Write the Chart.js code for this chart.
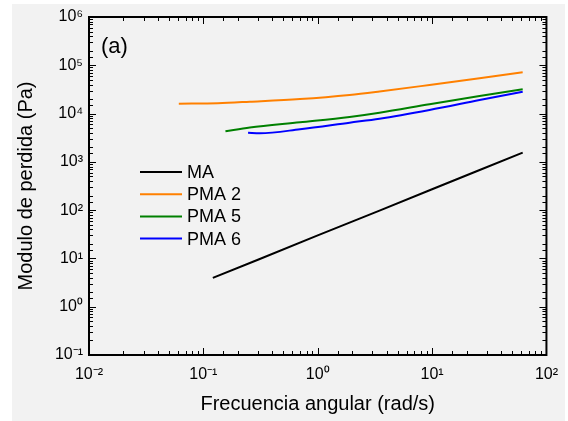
<!DOCTYPE html>
<html><head><meta charset="utf-8">
<script src="https://cdn.jsdelivr.net/npm/chart.js@4.4.0/dist/chart.umd.min.js"></script>
<style>html,body{margin:0;padding:0;background:#fff;}#wrap{width:568px;height:421px;}</style>
</head><body><div id="wrap"><canvas id="c" width="568" height="421"></canvas></div>
<script>
// ---- data ----
const seriesNames = ['MA', 'PMA 2', 'PMA 5', 'PMA 6'];
const seriesColors = ['#000000', '#ff8000', '#008000', '#0000ff'];

const maFreq = [0.121, 0.3, 1, 3.47, 10, 24.5, 62];
const maValues = [3.95, 9.4, 30, 98, 271, 640, 1550];

const pma2Freq = [0.061, 0.134, 0.255, 0.70, 1.9, 3.47, 9.5, 26, 62];
const pma2Values = [16000, 16400, 17600, 20000, 24300, 28700, 39100, 53800, 71600];

const pma5Freq = [0.156, 0.255, 0.70, 1.9, 3.47, 9.5, 26, 62];
const pma5Values = [4300, 5150, 6600, 8500, 10400, 15600, 23100, 31800];

const pma6Freq = [0.246, 0.311, 0.70, 1.9, 3.47, 9.5, 26, 62];
const pma6Values = [4020, 3910, 4730, 6490, 7840, 11900, 19100, 28400];

const xTickLabels = ['10\u207B\u00B2', '10\u207B\u00B9', '10\u2070', '10\u00B9', '10\u00B2'];
const xTickExps = [-2, -1, 0, 1, 2];
const yTickLabels = ['10\u207B\u00B9', '10\u2070', '10\u00B9', '10\u00B2', '10\u00B3', '10\u2074', '10\u2075', '10\u2076'];
const yTickExps = [-1, 0, 1, 2, 3, 4, 5, 6];

const xTitle = 'Frecuencia angular (rad/s)';
const yTitle = 'Modulo de perdida (Pa)';
const panelLabel = '(a)';

const FONT = "'Liberation Sans', Arial, sans-serif";

function toPoints(xs, ys) { return xs.map((x, i) => ({ x: x, y: ys[i] })); }
const seriesData = [
  toPoints(maFreq, maValues),
  toPoints(pma2Freq, pma2Values),
  toPoints(pma5Freq, pma5Values),
  toPoints(pma6Freq, pma6Values)
];

function isPow10(v) {
  const l = Math.log10(v);
  return Math.abs(l - Math.round(l)) < 1e-9;
}
function labelFor(v, exps, labels) {
  if (!isPow10(v)) return '';
  const i = exps.indexOf(Math.round(Math.log10(v)));
  return i >= 0 ? labels[i] : '';
}

const bgPlugin = {
  id: 'bg',
  beforeDraw(chart) {
    const ctx = chart.ctx;
    ctx.save();
    ctx.fillStyle = '#ffffff';
    ctx.fillRect(0, 0, chart.width, chart.height);
    ctx.fillStyle = '#f2f2f2';
    ctx.fillRect(12, 4, 553, 417);
    ctx.restore();
  }
};

const framePlugin = {
  id: 'frame',
  afterDraw(chart) {
    const ctx = chart.ctx;
    const a = chart.chartArea;
    const xs = chart.scales.x, ys = chart.scales.y;
    ctx.save();
    ctx.strokeStyle = '#000';
    ctx.lineWidth = 1;
    ctx.beginPath();
    xs.ticks.forEach(t => {
      const p = Math.round(xs.getPixelForValue(t.value)) + 0.5;
      const len = isPow10(t.value) ? 7 : 4;
      ctx.moveTo(p, a.bottom); ctx.lineTo(p, a.bottom - len);
      ctx.moveTo(p, a.top); ctx.lineTo(p, a.top + len);
    });
    ys.ticks.forEach(t => {
      const p = Math.round(ys.getPixelForValue(t.value)) + 0.5;
      const len = isPow10(t.value) ? 7 : 4;
      ctx.moveTo(a.left, p); ctx.lineTo(a.left + len, p);
      ctx.moveTo(a.right, p); ctx.lineTo(a.right - len, p);
    });
    ctx.stroke();
    ctx.lineWidth = 2;
    ctx.strokeRect(a.left, a.top, a.right - a.left, a.bottom - a.top);

    // panel label
    ctx.fillStyle = '#000';
    ctx.font = '22px ' + FONT;
    ctx.textAlign = 'left';
    ctx.textBaseline = 'middle';
    ctx.fillText(panelLabel, 101, 47);

    // legend
    ctx.font = '18px ' + FONT;
    chart.data.datasets.forEach((ds, i) => {
      const y = 172 + i * 22.2;
      ctx.strokeStyle = ds.borderColor;
      ctx.lineWidth = 2;
      ctx.beginPath();
      ctx.moveTo(140, y); ctx.lineTo(182, y);
      ctx.stroke();
      ctx.fillStyle = '#000';
      ctx.fillText(ds.label, 187, y + 1);
    });
    ctx.restore();
  }
};

new Chart(document.getElementById('c'), {
  type: 'line',
  data: {
    datasets: seriesNames.map((n, i) => ({
      label: n,
      data: seriesData[i],
      borderColor: seriesColors[i],
      backgroundColor: seriesColors[i],
      borderWidth: 2,
      pointRadius: 0,
      fill: false,
      tension: 0,
      cubicInterpolationMode: i === 0 ? 'default' : 'monotone'
    }))
  },
  options: {
    responsive: false,
    animation: false,
    devicePixelRatio: 1,
    layout: { padding: { left: 0, top: 17, right: 21, bottom: 0 } },
    plugins: { legend: { display: false }, tooltip: { enabled: false } },
    scales: {
      x: {
        type: 'logarithmic',
        position: 'bottom',
        min: 0.01, max: 100,
        grid: { display: false, drawTicks: false },
        border: { display: false },
        ticks: {
          autoSkip: false, maxRotation: 0, minRotation: 0, padding: 10,
          color: '#000', font: { family: FONT, size: 16 },
          callback: (v) => labelFor(v, xTickExps, xTickLabels)
        },
        title: { display: true, text: xTitle, color: '#000', font: { family: FONT, size: 20 }, padding: { top: 0, bottom: 5 } },
        afterFit(s) { s.height = 66; }
      },
      y: {
        type: 'logarithmic',
        position: 'left',
        min: 0.1, max: 1000000,
        grid: { display: false, drawTicks: false },
        border: { display: false },
        ticks: {
          autoSkip: false, padding: 6,
          color: '#000', font: { family: FONT, size: 16 },
          callback: (v) => labelFor(v, yTickExps, yTickLabels)
        },
        title: { display: true, text: yTitle, color: '#000', font: { family: FONT, size: 20 }, padding: { top: 14, bottom: 0 } },
        afterFit(s) { s.width = 89; }
      }
    }
  },
  plugins: [bgPlugin, framePlugin]
});
</script>
</body></html>
